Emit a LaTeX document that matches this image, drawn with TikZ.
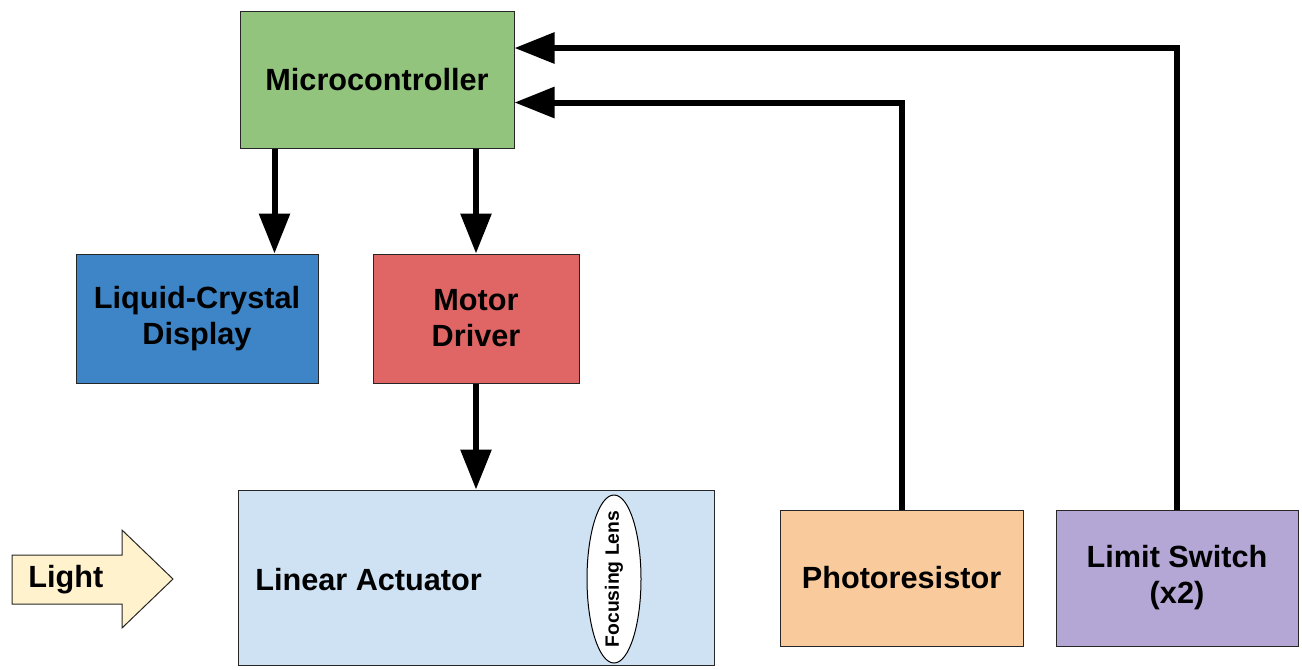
\documentclass[tikz,border=0pt]{standalone}
\usepackage{fontspec}
\setmainfont{Liberation Sans}
\usetikzlibrary{arrows.meta,shapes.geometric,calc}
\definecolor{cgreen}{HTML}{93C47D}
\definecolor{cblue}{HTML}{3D85C6}
\definecolor{cred}{HTML}{E06666}
\definecolor{clight}{HTML}{CFE2F3}
\definecolor{corange}{HTML}{F9CB9C}
\definecolor{cpurple}{HTML}{B4A7D6}
\definecolor{cyellow}{HTML}{FFF2CC}
\tikzset{
  box/.style={draw=black!85, line width=0.75pt, inner sep=0pt, align=center,
    font=\fontsize{23}{27}\selectfont\bfseries},
  arr/.style={line width=4.5pt, line join=miter, -{Triangle[length=30pt,width=22.5pt]}},
  lbl/.style={inner sep=0pt, font=\fontsize{23}{27}\selectfont\bfseries}
}
\begin{document}
\begin{tikzpicture}[x=0.75pt,y=-0.75pt]
\useasboundingbox (0,0) rectangle (1302,669);
\node[box, fill=cgreen, minimum width=205.5pt, minimum height=102.75pt] (mc) at (377,79.5) {Microcontroller};
\node[box, fill=cblue, minimum width=181.5pt, minimum height=96.75pt] (lcd) at (197,318.5) {Liquid-Crystal\\Display};
\node[box, fill=cred, minimum width=154.5pt, minimum height=96.75pt] (md) at (476,318.5) {Motor\\Driver};
\node[box, fill=clight, minimum width=357pt, minimum height=131.25pt] (la) at (476,577.5) {};
\node[lbl, anchor=west] (latext) at (255,580) {Linear Actuator};
\node[draw=black, line width=0.75pt, fill=white, ellipse, minimum width=40.5pt, minimum height=126pt, inner sep=0pt] (lens) at (614,579) {};
\node[rotate=90, inner sep=0pt, font=\fontsize{14.5}{16}\selectfont\bfseries] (lenstext) at (lens.center) {Focusing Lens};
\node[box, fill=corange, minimum width=182.25pt, minimum height=102pt] (pr) at (901.5,578) {Photoresistor};
\node[box, fill=cpurple, minimum width=181.5pt, minimum height=102pt] (ls) at (1177,578) {Limit Switch\\(x2)};
% light arrow
\draw[draw=black!85, line width=0.75pt, fill=cyellow, line join=miter]
  (12,555) -- (122,555) -- (122,530) -- (173,579) -- (122,628) -- (122,604) -- (12,604) -- cycle;
\node[lbl, anchor=west] (light) at (28,580) {Light};
% connectors
\draw[arr] ($(mc.south west)+(35,0)$) coordinate (a) -- (a |- lcd.north);
\draw[arr] (md.north |- mc.south) -- (md.north);
\draw[arr] (md.south) -- (la.north);
\draw[arr] (ls.north) |- ($(mc.north east)+(0,37.5)$);
\draw[arr] (pr.north) |- ($(mc.north east)+(0,92)$);
\end{tikzpicture}
\end{document}
